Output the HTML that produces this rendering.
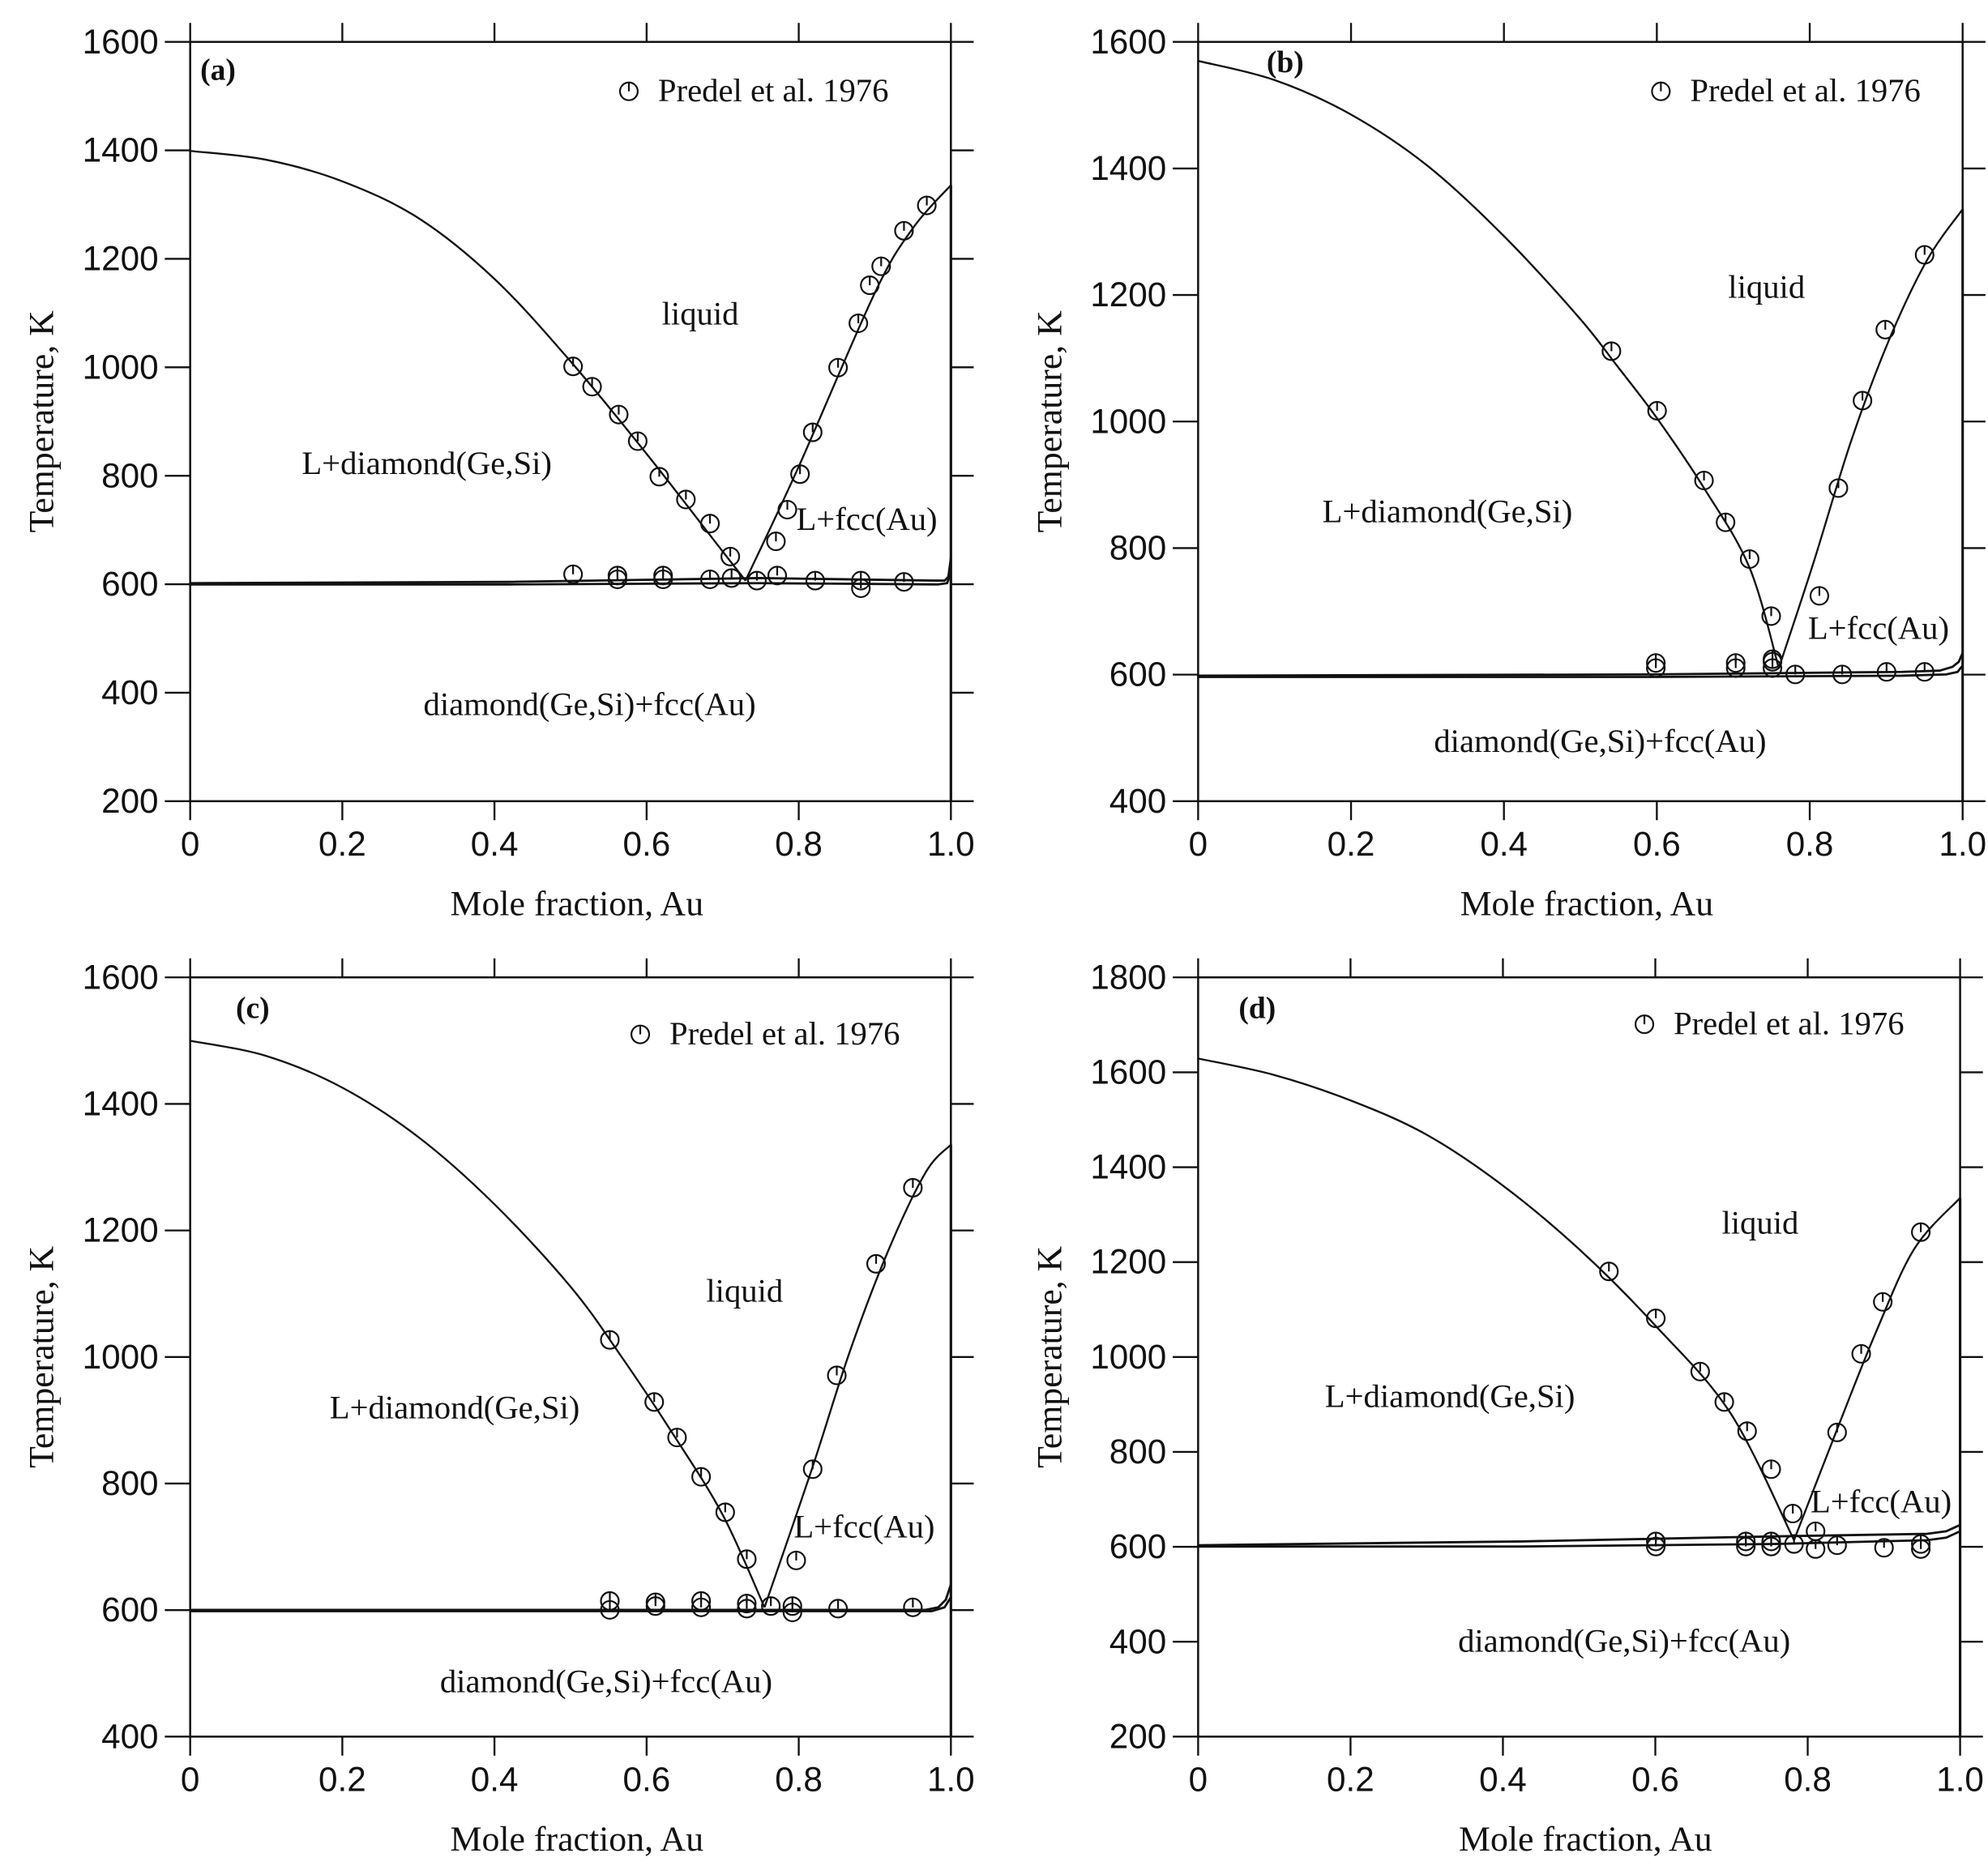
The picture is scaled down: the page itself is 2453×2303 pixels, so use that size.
<!DOCTYPE html>
<html><head><meta charset="utf-8">
<style>
html,body{margin:0;padding:0;background:#fff;}
svg{display:block;}
.tk{font-family:"Liberation Sans",sans-serif;font-size:27px;fill:#111;}
.ti{font-family:"Liberation Serif",serif;font-size:28px;fill:#111;}
.lb{font-family:"Liberation Serif",serif;font-size:26px;fill:#111;}
.pl{font-family:"Liberation Serif",serif;font-size:24px;font-weight:bold;fill:#111;}
</style></head>
<body>
<svg id="s" width="2453" height="2303" viewBox="0 0 1568 1472" xmlns="http://www.w3.org/2000/svg"></svg>
<script>
const S=document.getElementById('s');let h='';
function cr(p){let d='M'+p[0][0]+','+p[0][1];for(let i=0;i<p.length-1;i++){const p0=p[i-1]||p[i],p1=p[i],p2=p[i+1],p3=p[i+2]||p2;
d+=' C'+(p1[0]+(p2[0]-p0[0])/6).toFixed(1)+','+(p1[1]+(p2[1]-p0[1])/6).toFixed(1)+' '+(p2[0]-(p3[0]-p1[0])/6).toFixed(1)+','+(p2[1]-(p3[1]-p1[1])/6).toFixed(1)+' '+p2[0]+','+p2[1];}return d;}
function path(p,w){h+=`<path d="${cr(p)}" fill="none" stroke="#111" stroke-width="${w||1.5}"/>`;}
function poly(p,w){h+=`<polyline points="${p.map(q=>q.join(',')).join(' ')}" fill="none" stroke="#111" stroke-width="${w||1.8}" stroke-linejoin="round"/>`;}
function circ(x,y){h+=`<circle cx="${x}" cy="${y}" r="7" fill="none" stroke="#111" stroke-width="1.4"/><line x1="${x}" y1="${y}" x2="${x}" y2="${y-7}" stroke="#111" stroke-width="1.4"/>`;}
function txt(x,y,t,c){h+=`<text x="${x}" y="${y}" class="${c}">${t}</text>`;}
function panel(P){
 const {x0,x1,yt,yb,tmax,tmin}=P;
 h+=`<rect x="${x0}" y="${yt}" width="${x1-x0}" height="${yb-yt}" fill="none" stroke="#111" stroke-width="1.6"/>`;
 const n=(tmax-tmin)/200;
 for(let i=0;i<=n;i++){const y=yb-(yb-yt)*i/n;
  h+=`<line x1="${x0-20}" y1="${y}" x2="${x0}" y2="${y}" stroke="#111" stroke-width="1.5"/><line x1="${x1}" y1="${y}" x2="${x1+18}" y2="${y}" stroke="#111" stroke-width="1.5"/>`;
  h+=`<text x="${x0-25}" y="${y+9}" text-anchor="end" class="tk">${tmin+200*i}</text>`;}
 for(let i=0;i<=5;i++){const x=x0+(x1-x0)*i/5;
  h+=`<line x1="${x}" y1="${yt-15}" x2="${x}" y2="${yt}" stroke="#111" stroke-width="1.5"/><line x1="${x}" y1="${yb}" x2="${x}" y2="${yb+15}" stroke="#111" stroke-width="1.5"/>`;
  h+=`<text x="${x}" y="${yb+43}" text-anchor="middle" class="tk">${i==0?'0':i==5?'1.0':(i/5).toFixed(1)}</text>`;}
 h+=`<text x="${(x0+x1)/2+5}" y="${yb+90}" text-anchor="middle" class="ti">Mole fraction, Au</text>`;
 const cy=(yt+yb)/2;h+=`<text x="${x0-108}" y="${cy}" text-anchor="middle" class="ti" transform="rotate(-90 ${x0-108} ${cy})">Temperature, K</text>`;
 path(P.L);path(P.R);
 P.sol.forEach(s=>poly(s,1.8));
 h+=`<line x1="${x1}" y1="${P.vtop}" x2="${x1}" y2="${yb}" stroke="#111" stroke-width="2"/>`;
 P.pts.forEach(p=>circ(p[0],p[1]));
 circ(P.leg[0],P.leg[1]);txt(P.leg[0]+23,P.leg[1]+8,'Predel et al. 1976','lb');
 P.labels.forEach(l=>txt(l[0],l[1],l[2],l[3]||'lb'));
}
panel({x0:150,x1:750,yt:33,yb:632,tmax:1600,tmin:200,vtop:146,
L:[[150,119],[210,126],[270,143],[330,172],[390,220],[450,285],[510,358],[570,435],[588,458]],
R:[[588,458],[630,368],[690,231],[720,180],[750,146]],
sol:[[[150,460],[400,459],[600,456],[738,458],[745,458],[748,455],[750,440]],[[150,461],[400,461],[600,460],[740,461],[747,460],[750,452]]],
pts:[[452,289],[467,305],[488,327],[503,348],[520,376],[541,394],[560,413],[576,439],[612,427],[621,402],[631,374],[641,341],[661,290],[677,255],[686,225],[695,210],[713,182],[731,162],[452,453],[487,454],[487,457],[523,454],[523,457],[560,457],[577,456],[597,458],[613,454],[643,458],[679,458],[679,464],[713,459]],
leg:[496,72],labels:[[158,63,'(a)','pl'],[522,256,'liquid'],[238,374,'L+diamond(Ge,Si)'],[628,418,'L+fcc(Au)'],[334,564,'diamond(Ge,Si)+fcc(Au)']]});
panel({x0:945,x1:1548,yt:33,yb:632,tmax:1600,tmin:400,vtop:165,
L:[[945,48],[1005,63],[1065,90],[1125,130],[1185,185],[1245,250],[1275,288],[1307,330],[1344,385],[1380,448],[1403,527]],
R:[[1403,527],[1430,445],[1460,348],[1490,268],[1520,205],[1548,165]],
sol:[[[945,533],[1300,532],[1500,530],[1530,529],[1540,526],[1545,522],[1548,515]],[[945,534],[1300,534],[1500,533],[1535,532],[1544,530],[1548,525]]],
pts:[[1271,277],[1307,324],[1344,379],[1361,412],[1380,441],[1397,486],[1398,520],[1435,470],[1450,385],[1469,316],[1487,260],[1518,201],[1306,523],[1306,527],[1369,523],[1369,527],[1398,522],[1398,527],[1416,532],[1453,532],[1488,530],[1518,530]],
leg:[1310,72],labels:[[999,57,'(b)','pl'],[1363,235,'liquid'],[1043,412,'L+diamond(Ge,Si)'],[1426,504,'L+fcc(Au)'],[1131,593,'diamond(Ge,Si)+fcc(Au)']]});
panel({x0:150,x1:750,yt:771,yb:1370,tmax:1600,tmin:400,vtop:903,
L:[[150,821],[210,833],[270,858],[330,897],[390,950],[450,1015],[490,1070],[530,1130],[570,1195],[603,1268]],
R:[[603,1268],[640,1160],[670,1067],[700,988],[730,925],[750,903]],
sol:[[[150,1270],[500,1270],[730,1270],[740,1268],[746,1262],[750,1250]],[[150,1271],[735,1271],[745,1268],[750,1260]]],
pts:[[481,1057],[516,1106],[534,1134],[553,1165],[572,1193],[589,1230],[628,1231],[641,1159],[660,1085],[691,997],[720,937],[481,1263],[481,1270],[517,1264],[517,1267],[553,1263],[553,1268],[589,1265],[589,1269],[608,1267],[625,1267],[625,1272],[661,1269],[720,1268]],
leg:[505,816],labels:[[186,803,'(c)','pl'],[557,1027,'liquid'],[260,1119,'L+diamond(Ge,Si)'],[626,1213,'L+fcc(Au)'],[347,1335,'diamond(Ge,Si)+fcc(Au)']]});
panel({x0:945,x1:1546,yt:771,yb:1370,tmax:1800,tmin:200,vtop:945,
L:[[945,835],[1005,848],[1065,868],[1125,895],[1185,935],[1245,985],[1305,1045],[1365,1115],[1415,1215]],
R:[[1415,1215],[1450,1125],[1480,1050],[1510,985],[1546,945]],
sol:[[[945,1219],[1200,1216],[1400,1212],[1520,1210],[1535,1208],[1546,1203]],[[945,1220],[1200,1220],[1400,1218],[1520,1215],[1535,1213],[1546,1208]]],
pts:[[1269,1003],[1306,1040],[1341,1082],[1360,1106],[1378,1129],[1397,1159],[1414,1194],[1449,1130],[1468,1068],[1485,1027],[1515,972],[1306,1216],[1306,1220],[1377,1216],[1377,1220],[1397,1216],[1397,1220],[1415,1218],[1432,1208],[1432,1222],[1449,1219],[1486,1221],[1515,1222],[1515,1218]],
leg:[1297,808],labels:[[977,803,'(d)','pl'],[1358,973,'liquid'],[1045,1110,'L+diamond(Ge,Si)'],[1428,1193,'L+fcc(Au)'],[1150,1303,'diamond(Ge,Si)+fcc(Au)']]});
S.innerHTML=h;
</script>
</body></html>
